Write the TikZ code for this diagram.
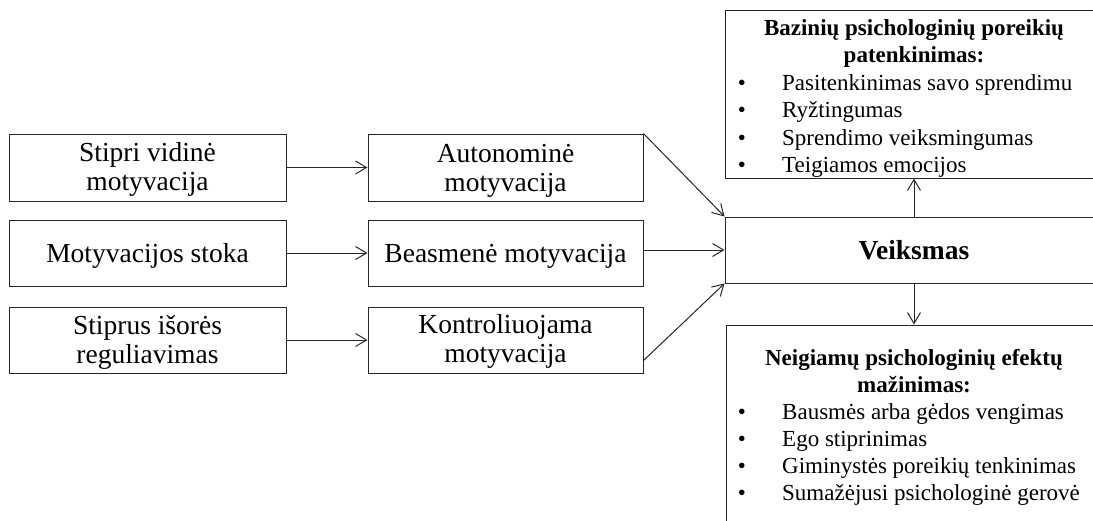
\documentclass[tikz,border=0pt]{standalone}
\usepackage{fontspec}
\setmainfont{Liberation Serif}
\usetikzlibrary{arrows.meta}
\begin{document}
\begin{tikzpicture}[x=1pt,y=-1pt,
  box/.style={draw=black!85, line width=1pt, rectangle, inner sep=0pt},
  big/.style={font=\fontsize{27.5}{30}\selectfont, inner sep=0pt, anchor=base},
  bigb/.style={font=\fontsize{27.5}{30}\selectfont\bfseries, inner sep=0pt, anchor=base},
  head/.style={font=\fontsize{23}{27}\selectfont\bfseries, inner sep=0pt, anchor=base},
  bul/.style={font=\fontsize{23}{27}\selectfont, inner sep=0pt, anchor=base},
  item/.style={font=\fontsize{23}{27}\selectfont, inner sep=0pt, anchor=base west},
  arr/.style={draw=black!85, line width=1pt, -{Straight Barb[length=11pt,width=13pt,line width=1pt]}}
]
\useasboundingbox (0,0) rectangle (1093,520);
\clip (0,0) rectangle (1093,520);

% left boxes
\node[box, minimum width=277pt, minimum height=67pt] (l1) at (147.5,167.5) {};
\node[box, minimum width=277pt, minimum height=66pt] (l2) at (147.5,253) {};
\node[box, minimum width=277pt, minimum height=66pt] (l3) at (147.5,340) {};
% middle boxes
\node[box, minimum width=275pt, minimum height=67pt] (m1) at (505.5,167.5) {};
\node[box, minimum width=275pt, minimum height=66pt] (m2) at (505.5,253) {};
\node[box, minimum width=275pt, minimum height=66pt] (m3) at (505.5,340) {};
% right boxes
\node[box, minimum width=378pt, minimum height=66pt] (v) at (914,250) {};
\node[box, minimum width=378pt, minimum height=168pt] (top) at (914,94) {};
\node[box, minimum width=377pt, minimum height=235pt] (bot) at (914.5,442.5) {};

% texts
\node[big] (t1a) at (147.5,161) {Stipri vidinė};
\node[big] (t1b) at (147.5,190) {motyvacija};
\node[big] (t2)  at (147.5,262) {Motyvacijos stoka};
\node[big] (t3a) at (147.5,334) {Stiprus išorės};
\node[big] (t3b) at (147.5,363) {reguliavimas};

\node[big] (s1a) at (505.5,162) {Autonominė};
\node[big] (s1b) at (505.5,191) {motyvacija};
\node[big] (s2)  at (505.5,262) {Beasmenė motyvacija};
\node[big] (s3a) at (505.5,333) {Kontroliuojama};
\node[big] (s3b) at (505.5,362) {motyvacija};

\node[bigb] (vt) at (914,259) {Veiksmas};

\node[head] (h1a) at (914,35) {Bazinių psichologinių poreikių};
\node[head] (h1b) at (914,62) {patenkinimas:};
\node[bul] (b1) at (742,90) {•};    \node[item] (i1) at (782,90) {Pasitenkinimas savo sprendimu};
\node[bul] (b2) at (742,117.5) {•}; \node[item] (i2) at (782,117.5) {Ryžtingumas};
\node[bul] (b3) at (742,145) {•};   \node[item] (i3) at (782,145) {Sprendimo veiksmingumas};
\node[bul] (b4) at (742,172.5) {•}; \node[item] (i4) at (782,172.5) {Teigiamos emocijos};

\node[head] (h2a) at (914,365) {Neigiamų psichologinių efektų};
\node[head] (h2b) at (914,392) {mažinimas:};
\node[bul] (c1) at (742,419) {•}; \node[item] (j1) at (782,419) {Bausmės arba gėdos vengimas};
\node[bul] (c2) at (742,446) {•}; \node[item] (j2) at (782,446) {Ego stiprinimas};
\node[bul] (c3) at (742,473) {•}; \node[item] (j3) at (782,473) {Giminystės poreikių tenkinimas};
\node[bul] (c4) at (742,500) {•}; \node[item] (j4) at (782,500) {Sumažėjusi psichologinė gerovė};

% connectors
\draw[arr] (l1.east) -- (m1.west);
\draw[arr] (l2.east) -- (m2.west);
\draw[arr] (l3.east) -- (m3.west);
\draw[arr] (m1.north east) -- (v.north west);
\draw[arr] (m2.east |- v.west) -- (v.west);
\draw[arr] ([yshift=13pt]m3.south east) -- (v.south west);
\draw[arr] (v.north) -- (top.south);
\draw[arr] (v.south) -- (v.south |- bot.north);
\end{tikzpicture}
\end{document}
